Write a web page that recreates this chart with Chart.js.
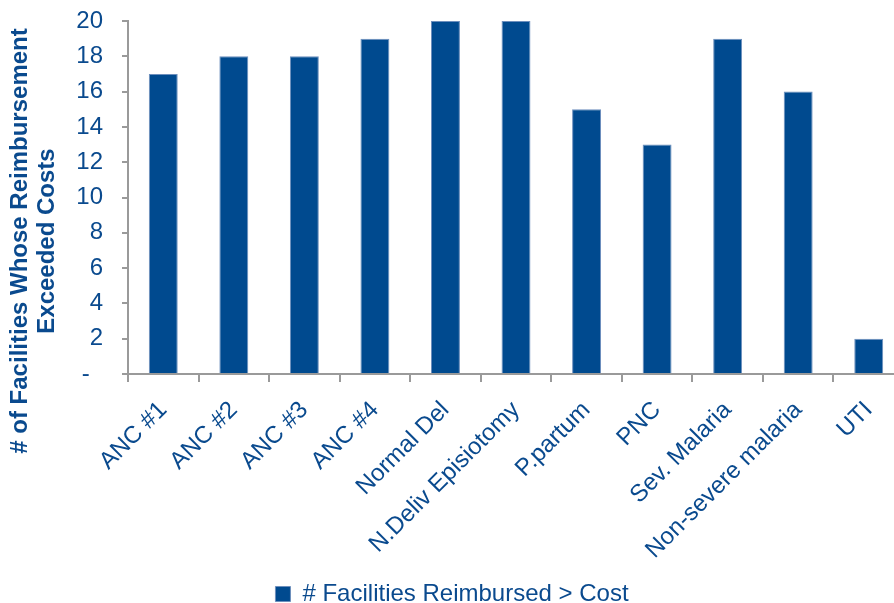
<!DOCTYPE html>
<html>
<head>
<meta charset="utf-8">
<script src="https://cdn.jsdelivr.net/npm/chart.js@4"></script>
<style>
  html, body { margin: 0; padding: 0; background: #fff; overflow: hidden; }
  #wrap { width: 904px; height: 603px; }
</style>
</head>
<body>
<div id="wrap"><canvas id="myChart"></canvas></div>
<script>
const categories = ['ANC #1', 'ANC #2', 'ANC #3', 'ANC #4', 'Normal Del', 'N.Deliv Episiotomy',
    'P.partum', 'PNC', 'Sev. Malaria', 'Non-severe malaria', 'UTI'];
const facilities = [17, 18, 18, 19, 20, 20, 15, 13, 19, 16, 2];
const seriesName = '# Facilities Reimbursed > Cost';
const yTitle = ['# of Facilities Whose Reimbursement', 'Exceeded Costs'];

const blue = '#004A8F';
const textBlue = '#0A4A8E';
const axisGrey = '#9a9a9a';
const font = 'Liberation Sans, Arial, sans-serif';

// y axis title drawn by hand so it can sit where the original has it
const yTitlePlugin = {
    id: 'yTitle',
    afterDraw(chart) {
        const ctx = chart.ctx;
        ctx.save();
        ctx.fillStyle = textBlue;
        ctx.font = 'bold 24px ' + font;
        ctx.textAlign = 'center';
        ctx.textBaseline = 'middle';
        ctx.translate(0, 241);
        ctx.rotate(-Math.PI / 2);
        ctx.fillText(yTitle[0], 0, 20);
        ctx.fillText(yTitle[1], 0, 47);
        ctx.restore();
    }
};

new Chart(document.getElementById('myChart'), {
    type: 'bar',
    data: {
        labels: categories,
        datasets: [{
            label: seriesName,
            data: facilities,
            backgroundColor: blue,
            borderColor: '#6d8fbd',
            borderWidth: 1,
            barPercentage: 0.41,
            categoryPercentage: 1
        }]
    },
    options: {
        responsive: true,
        maintainAspectRatio: false,
        animation: false,
        layout: { padding: { top: 21, left: 0, right: 0, bottom: -13 } },
        plugins: {
            tooltip: { enabled: false },
            legend: {
                position: 'bottom',
                labels: {
                    color: textBlue,
                    font: { family: font, size: 24, lineHeight: 1.1 },
                    boxWidth: 15,
                    boxHeight: 15,
                    padding: 0
                }
            }
        },
        scales: {
            x: {
                grid: { drawOnChartArea: false, color: axisGrey, tickLength: 8, lineWidth: 2 },
                border: { color: axisGrey, width: 2 },
                ticks: {
                    color: textBlue,
                    font: { family: font, size: 24 },
                    minRotation: 45,
                    maxRotation: 45,
                    autoSkip: false,
                    padding: 14
                },
                afterFit(scale) { scale.height = 208; }
            },
            y: {
                min: 0,
                max: 20,
                grid: { drawOnChartArea: false, color: axisGrey, tickLength: 6, lineWidth: 2 },
                border: { color: axisGrey, width: 2 },
                ticks: {
                    stepSize: 2,
                    color: textBlue,
                    font: { family: font, size: 24 },
                    padding: 19,
                    // accounting style: zero shown as a dash, set in a little
                    callback: v => v === 0 ? '-  ' : v
                },
                afterFit(scale) {
                    scale.width = 128;
                    scale.paddingTop = 0;
                    scale.paddingBottom = 0;
                }
            }
        }
    },
    plugins: [yTitlePlugin]
});
</script>
</body>
</html>
